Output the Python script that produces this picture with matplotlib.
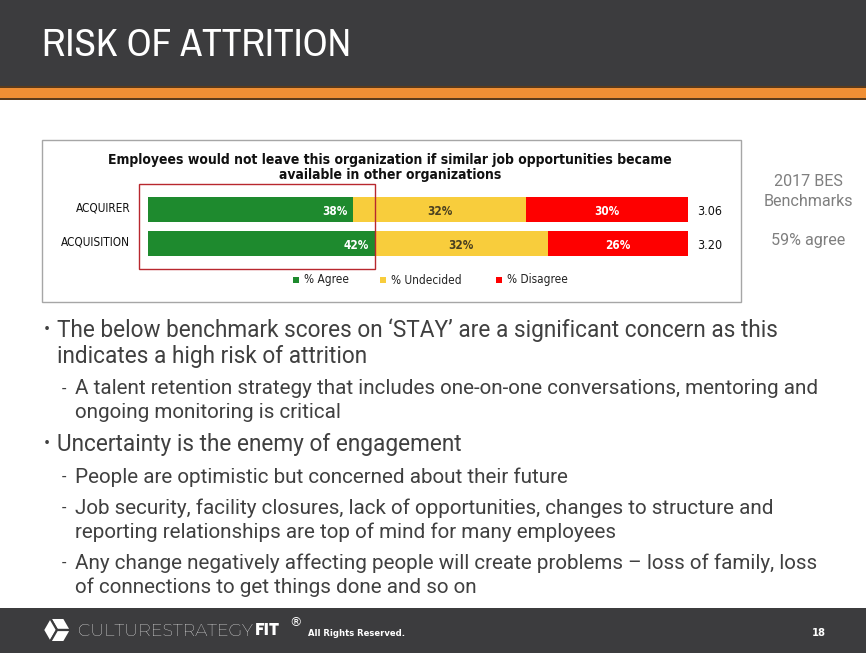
import numpy as np
import matplotlib
matplotlib.use('Agg')
import matplotlib.pyplot as plt
from matplotlib import font_manager
from matplotlib.font_manager import FontProperties
from matplotlib.patches import Rectangle, Polygon

# chart data
groups = ['ACQUIRER', 'ACQUISITION']
agree = [38, 42]
undecided = [32, 32]
disagree = [30, 26]
scores = [3.06, 3.20]
legend_labels = ['% Agree', '% Undecided', '% Disagree']
chart_title = ["Employees would not leave this organization if similar job opportunities became",
               "available in other organizations"]

slide_title = "RISK OF ATTRITION"
benchmark = ["2017 BES", "Benchmarks", "", "59% agree"]

# (level, lines)
bullets = [
    (0, ["The below benchmark scores on \u2018STAY\u2019 are a significant concern as this",
         "indicates a high risk of attrition"]),
    (1, ["A talent retention strategy that includes one-on-one conversations, mentoring and",
         "ongoing monitoring is critical"]),
    (0, ["Uncertainty is the enemy of engagement"]),
    (1, ["People are optimistic but concerned about their future"]),
    (1, ["Job security, facility closures, lack of opportunities, changes to structure and",
         "reporting relationships are top of mind for many employees"]),
    (1, ["Any change negatively affecting people will create problems \u2013 loss of family, loss",
         "of connections to get things done and so on"]),
]

GREEN = '#1e8a2e'
YELLOW = '#f8cd3c'
RED = '#fe0000'
DARK = '#3c3c3e'
ORANGE = '#f18f34'
TEXT = '#404040'
CHART = ['DejaVu Sans']


def pick(cands, weight=400):
    # first installed font file of the wanted weight, upright, normal stretch
    for name in cands:
        for f in font_manager.fontManager.ttflist:
            w = f.weight if isinstance(f.weight, int) else font_manager.weight_dict.get(f.weight, 400)
            if f.name == name and w == weight and f.style == 'normal' and str(f.stretch) in ('normal', '500'):
                return FontProperties(fname=f.fname)
    return FontProperties(family='DejaVu Sans', weight=weight)


NARROW = FontProperties(family=['Archivo Narrow', 'DejaVu Sans'], weight='normal')
BODY = pick(['Libre Franklin', 'Archivo', 'Public Sans', 'Roboto', 'Liberation Sans'])
LOGO = FontProperties(family=['Montserrat', 'DejaVu Sans'], weight='light')
LOGO_B = pick(['Montserrat', 'Poppins', 'Liberation Sans'], 700)

W, H = 866, 653
fig = plt.figure(figsize=(W / 100, H / 100), dpi=100)
fig.patch.set_facecolor('white')

# background layer in pixel coordinates
bg = fig.add_axes([0, 0, 1, 1])
bg.set_xlim(0, W)
bg.set_ylim(H, 0)
bg.axis('off')

renderer = fig.canvas.get_renderer()


def fit(t, width):
    bb = t.get_window_extent(renderer=renderer)
    t.set_fontsize(t.get_fontsize() * width / bb.width)
    return t.get_fontsize()


# header
bg.add_patch(Rectangle((0, 0), W, 86, color=DARK, lw=0))
bg.add_patch(Rectangle((0, 86), W, 14, color='#5b3b1c', lw=0))
bg.add_patch(Rectangle((0, 88), W, 10, color=ORANGE, lw=0))
t = bg.text(42, 46, slide_title, color='white', va='center', fontproperties=NARROW)
fit(t, 308)

# chart frame
bg.add_patch(Rectangle((42, 140), 699, 162, facecolor='white', edgecolor='#a6a6a6', lw=1))
t1 = bg.text(390, 160, chart_title[0], ha='center', va='center', fontsize=10,
             fontweight='bold', color='#111111', family=CHART, fontstretch='condensed')
fs = fit(t1, 565)
bg.text(390, 175, chart_title[1], ha='center', va='center', fontsize=fs,
        fontweight='bold', color='#111111', family=CHART, fontstretch='condensed')

# legend
leg_colors = [GREEN, YELLOW, RED]
leg_x = [296, 383, 499]
for lx, c, lab in zip(leg_x, leg_colors, legend_labels):
    bg.add_patch(Rectangle((lx - 3, 277), 6, 6, color=c, lw=0))
    bg.text(lx + 8, 280, lab, va='center', fontsize=8.5, color='#222222',
            family=CHART, fontstretch='condensed')

# benchmark note on the right
bench = []
for i, line in enumerate(benchmark):
    t = bg.text(808, 181 + 20 * i, line, ha='center', va='center',
                color='#7f7f7f', fontproperties=BODY)
    bench.append(t)
bfs = fit(bench[1], 90)
for t in bench:
    t.set_fontsize(bfs)

# bullets
y = 330
main_fs = None
sub_fs = None
for level, lines in bullets:
    if level == 0:
        bx, tx, step = 44, 57, 26
    else:
        bx, tx, step = 62, 75, 24
    for j, line in enumerate(lines):
        tt = bg.text(tx, y, line, va='center', color=TEXT, fontproperties=BODY)
        cur = main_fs if level == 0 else sub_fs
        if cur:
            tt.set_fontsize(cur)
        elif level == 0:
            main_fs = fit(tt, 725)
        else:
            sub_fs = fit(tt, 745)
        if j == 0:
            m = bg.text(bx, y, '\u2022' if level == 0 else '-', va='center', color=TEXT,
                        fontproperties=BODY)
            m.set_fontsize((main_fs if level == 0 else sub_fs) * 0.8)
        y += step
    y += 7

# footer
bg.add_patch(Rectangle((0, 608), W, 45, color=DARK, lw=0))
cx, cy, r = 57, 630, 14
ang = np.deg2rad(np.arange(0, 360, 60))
vx = cx + r * np.cos(ang)
vy = cy - r * np.sin(ang)
for k in (0, 2, 4):
    pts = [(cx, cy), (vx[k], vy[k]), (vx[(k + 1) % 6], vy[(k + 1) % 6]), (vx[(k + 2) % 6], vy[(k + 2) % 6])]
    bg.add_patch(Polygon(pts, closed=True, facecolor='white', edgecolor=DARK, lw=1.6))
t = bg.text(78, 631, 'CULTURESTRATEGY', color='white', va='center', fontproperties=LOGO)
fs = fit(t, 175)
t = bg.text(255, 631, 'FIT', color='white', va='center', fontproperties=LOGO_B)
t.set_fontsize(fs)
bg.text(289, 623, '\u00ae', color='white', va='center', fontsize=9)
t = bg.text(308, 633, 'All Rights Reserved.', color='white', va='center', fontsize=8,
            family=CHART, fontweight='bold', fontstretch='condensed')
fit(t, 97)
bg.text(826, 633, '18', color='white', va='center', ha='right', fontsize=8, fontweight='bold',
        family=CHART, fontstretch='condensed')

# stacked bars in their own axes
x0, x1 = 148, 688
yc0, pitch = 209.5, 34
ax = fig.add_axes([x0 / W, 1 - (yc0 - pitch / 2 + pitch * len(groups)) / H,
                   (x1 - x0) / W, pitch * len(groups) / H])
ax.set_xlim(0, 100)
ax.set_ylim(len(groups) - 0.5, -0.5)
ax.axis('off')
ypos = np.arange(len(groups))
a = np.array(agree)
u = np.array(undecided)
d = np.array(disagree)
h = 25 / pitch
ax.barh(ypos, a, height=h, color=GREEN, lw=0)
ax.barh(ypos, u, left=a, height=h, color=YELLOW, lw=0)
ax.barh(ypos, d, left=a + u, height=h, color=RED, lw=0)
lab = dict(fontsize=8.5, fontweight='bold', family=CHART, fontstretch='condensed', va='center')
for i in range(len(groups)):
    ax.text(a[i] - 1, i + 0.05, f'{a[i]}%', ha='right', color='white', **lab)
    ax.text(a[i] + u[i] / 2, i + 0.05, f'{u[i]}%', ha='center', color='#4a4020', **lab)
    ax.text(a[i] + u[i] + d[i] / 2, i + 0.05, f'{d[i]}%', ha='center', color='white', **lab)
    ax.text(101.7, i + 0.05, f'{scores[i]:.2f}', ha='left', va='center', fontsize=9,
            color='#111111', clip_on=False, family=CHART, fontstretch='condensed')
    ax.text(-3.3, i - 0.05, groups[i], ha='right', va='center', fontsize=8.5,
            color='#111111', clip_on=False, family=CHART, fontstretch='condensed')

# highlight box around the agree share
top = fig.add_axes([0, 0, 1, 1], facecolor='none')
top.set_xlim(0, W)
top.set_ylim(H, 0)
top.axis('off')
top.add_patch(Rectangle((139, 184), 236, 85, fill=False, edgecolor='#b8282e', lw=1))

fig.savefig('out.png', dpi=100)
